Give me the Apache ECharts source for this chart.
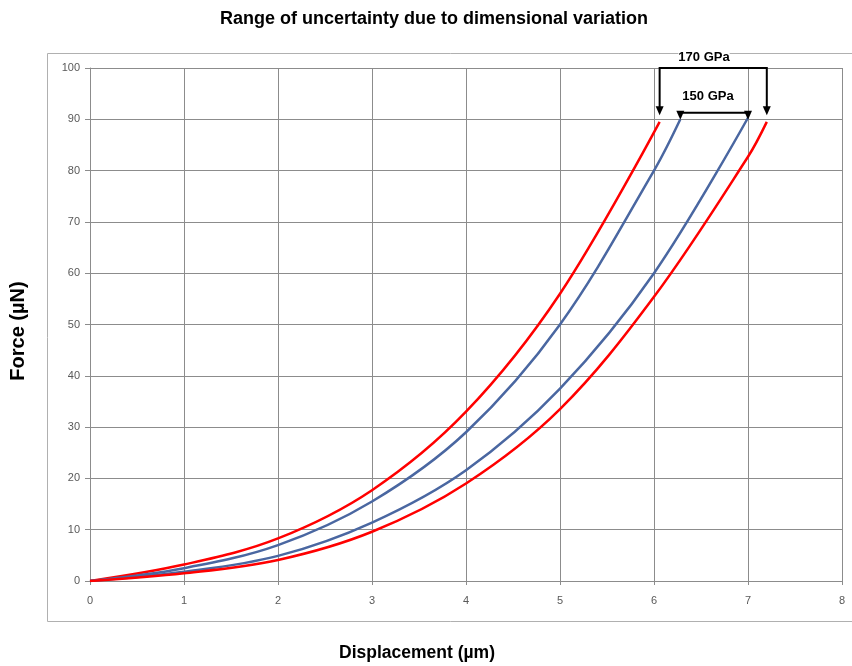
<!DOCTYPE html>
<html>
<head>
<meta charset="UTF-8">
<title>Range of uncertainty</title>
<script src="https://cdn.jsdelivr.net/npm/echarts@6/dist/echarts.min.js"></script>
<style>
  html, body { margin: 0; padding: 0; background: #fff; }
  #main { width: 852px; height: 666px; }
</style>
</head>
<body>
<div id="main"></div>
<script type="text/javascript">
// displacement (um) / force (uN) pairs
var redUpper  = [[0, 0], [1, 3.2], [2, 8.3], [3, 17.7], [4, 33], [5, 56], [6.06, 89.5]];
var blueUpper = [[0, 0], [1, 2.5], [2, 7.0], [3, 15.5], [4, 29], [5, 50], [6, 80], [6.28, 90]];
var blueLower = [[0, 0], [1, 1.8], [2, 4.9], [3, 11.4], [4, 21.6], [5, 37.5], [6, 60], [7, 90.3]];
var redLower  = [[0, 0], [1, 1.5], [2, 4.1], [3, 9.6], [4, 19], [5, 33.5], [6, 55.4], [7, 82.7], [7.2, 89.5]];

// bracket annotations: [x left, x right, bar y, arrow tip y]
var bracket170 = [6.06, 7.2, 100, 90.8];
var bracket150 = [6.28, 7.0, 91.3, 89.9];

var font = 'Liberation Sans, Arial, sans-serif';
var gridColor = '#8c8c8c';

var chart = echarts.init(document.getElementById('main'));

function curve(name, data, color) {
    return {
        name: name,
        type: 'line',
        data: data,
        smooth: 0.35,
        symbol: 'none',
        lineStyle: { color: color, width: 2.5 },
        z: 3
    };
}

chart.setOption({
    animation: false,
    title: {
        text: 'Range of uncertainty due to dimensional variation',
        left: 215,
        top: 5,
        textStyle: { fontFamily: font, fontSize: 18, fontWeight: 'bold', color: '#000' }
    },
    grid: { left: 90, right: 10, top: 68, bottom: 85 },
    xAxis: {
        type: 'value',
        min: 0, max: 8, interval: 1,
        axisLine: { show: true, lineStyle: { color: gridColor } },
        axisTick: { show: true, length: 4, lineStyle: { color: gridColor } },
        axisLabel: { fontFamily: font, fontSize: 11, color: '#595959', margin: 14 },
        splitLine: { show: true, lineStyle: { color: gridColor, width: 1 } }
    },
    yAxis: {
        type: 'value',
        min: 0, max: 100, interval: 10,
        axisLine: { show: true, lineStyle: { color: gridColor } },
        axisTick: { show: true, length: 5, lineStyle: { color: gridColor } },
        axisLabel: { fontFamily: font, fontSize: 11, color: '#595959', margin: 10 },
        splitLine: { show: true, lineStyle: { color: gridColor, width: 1 } }
    },
    series: [
        curve('E 170 upper', redUpper, '#ff0000'),
        curve('E 150 upper', blueUpper, '#4a67a1'),
        curve('E 150 lower', blueLower, '#4a67a1'),
        curve('E 170 lower', redLower, '#ff0000')
    ]
});

// draw the GPa brackets with arrows, placed through the axes
function px(x, y) { return chart.convertToPixel({ gridIndex: 0 }, [x, y]); }

function arrowHead(tip) {
    return {
        type: 'polygon',
        shape: { points: [[tip[0] - 4, tip[1] - 9], [tip[0] + 4, tip[1] - 9], [tip[0], tip[1]]] },
        style: { fill: '#000' },
        z: 10
    };
}

function bracket(b, label, labelX, labelY) {
    var tl = px(b[0], b[2]), tr = px(b[1], b[2]);
    var bl = px(b[0], b[3]), br = px(b[1], b[3]);
    return [
        {
            type: 'polyline',
            shape: { points: [[bl[0], bl[1] - 8], tl, tr, [br[0], br[1] - 8]] },
            style: { stroke: '#000', lineWidth: 2, fill: null },
            z: 10
        },
        arrowHead(bl),
        arrowHead(br),
        {
            type: 'text',
            x: labelX,
            y: labelY,
            style: {
                text: label,
                fontFamily: font, fontSize: 13, fontWeight: 'bold',
                fill: '#000', align: 'center', verticalAlign: 'middle',
                backgroundColor: '#fff'
            },
            z: 11
        }
    ];
}

chart.setOption({
    graphic: [
        {
            type: 'rect',
            shape: { x: 47.5, y: 53.5, width: 820, height: 568 },
            style: { stroke: '#b0b0b0', fill: null, lineWidth: 1 },
            z: -1
        },
        {
            type: 'text',
            x: 417, y: 653,
            style: {
                text: 'Displacement (\u00b5m)',
                fontFamily: font, fontSize: 17.5, fontWeight: 'bold',
                fill: '#000', align: 'center', verticalAlign: 'middle'
            }
        },
        {
            type: 'text',
            x: 18, y: 331,
            rotation: Math.PI / 2,
            style: {
                text: 'Force (\u00b5N)',
                fontFamily: font, fontSize: 20, fontWeight: 'bold',
                fill: '#000', align: 'center', verticalAlign: 'middle'
            }
        }
    ].concat(bracket(bracket170, '170 GPa', 704, 57))
     .concat(bracket(bracket150, '150 GPa', 708, 96))
});
</script>
</body>
</html>
